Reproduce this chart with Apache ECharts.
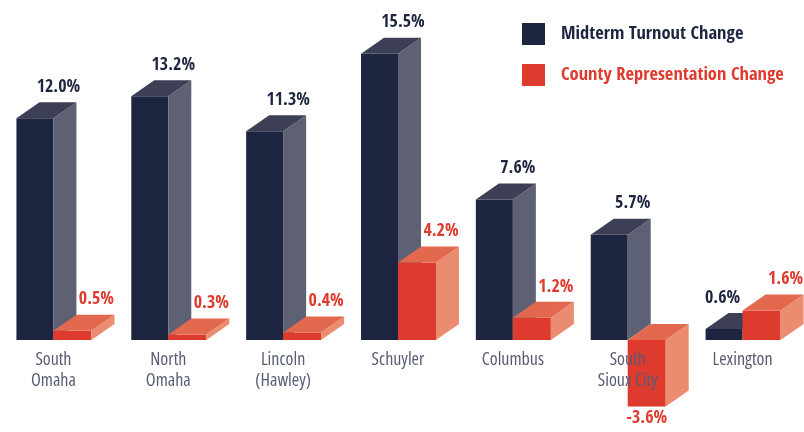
<!DOCTYPE html>
<html lang="en">
<head>
    <meta charset="UTF-8">
    <title>Turnout vs representation</title>
    <script src="https://cdn.jsdelivr.net/npm/echarts@6/dist/echarts.min.js"></script>
    <style>
        html, body { margin: 0; padding: 0; background: #ffffff; }
        #main { width: 804px; height: 432px; }
    </style>
</head>
<body>
    <div id="main"></div>
    <script>
        var places = ['South\nOmaha', 'North\nOmaha', 'Lincoln\n(Hawley)', 'Schuyler', 'Columbus', 'South\nSioux City', 'Lexington'];
        var turnoutChange = [12.0, 13.2, 11.3, 15.5, 7.6, 5.7, 0.6];
        var representationChange = [0.5, 0.3, 0.4, 4.2, 1.2, -3.6, 1.6];

        var narrow = "'Open Sans Condensed', 'Roboto Condensed', sans-serif";
        var navy = { front: '#1d2541', side: '#5e6074', top: '#3d3f56', text: '#1d2541' };
        var red = { front: '#df3a2e', side: '#eb8b70', top: '#e3694e', text: '#df3a2e' };

        // draws one pseudo-3d box, left of the band centre (navy) or right of it (red)
        function boxRenderer(pal, onLeft) {
            return function (params, api) {
                var idx = api.value(0), v = api.value(1);
                var base = api.coord([idx, 0]);
                var tip = api.coord([idx, v]);
                var cx = base[0];
                var w = onLeft ? 37 : 38, dx = 23, dy = -16;
                var x0 = onLeft ? cx - w : cx;
                var x1 = x0 + w;
                var yTop = Math.min(base[1], tip[1]);
                var yBot = Math.max(base[1], tip[1]);
                var txt = v.toFixed(1) + '%';
                var lx, ly;
                if (v < 0) {
                    lx = x0 + w / 2; ly = yBot + 12;
                } else if (onLeft) {
                    // move aside when the red neighbour is taller
                    lx = representationChange[idx] > v ? cx - 20 : cx + 5;
                    ly = yTop + dy - 15;
                } else {
                    lx = cx + 43;
                    ly = yTop + dy - 15;
                }
                return {
                    type: 'group',
                    children: [
                        { type: 'rect', shape: { x: x0, y: yTop, width: w, height: yBot - yTop }, style: { fill: pal.front } },
                        { type: 'polygon', shape: { points: [[x1, yTop], [x1 + dx, yTop + dy], [x1 + dx, yBot + dy], [x1, yBot]] }, style: { fill: pal.side } },
                        { type: 'polygon', shape: { points: [[x0, yTop], [x0 + dx, yTop + dy], [x1 + dx, yTop + dy], [x1, yTop]] }, style: { fill: pal.top } },
                        { type: 'text', style: { text: txt, x: lx, y: ly, align: 'center', verticalAlign: 'middle', fill: pal.text, font: 'bold 18px ' + narrow } }
                    ]
                };
            };
        }

        var myChart = echarts.init(document.getElementById('main'));
        var option = {
            backgroundColor: '#ffffff',
            animation: false,
            // the axis sits on the zero line; the negative box is drawn below the grid
            grid: { left: -4, right: 4, top: 26, bottom: 92, outerBoundsMode: 'none', containLabel: false },
            legend: {
                orient: 'vertical',
                left: 522,
                top: 23,
                padding: 0,
                icon: 'rect',
                itemWidth: 23,
                itemHeight: 22,
                itemGap: 19,
                selectedMode: false,
                textStyle: { fontFamily: narrow, fontWeight: 'bold', fontSize: 18.5, padding: [0, 0, 0, 11] },
                data: [
                    { name: 'Midterm Turnout Change', textStyle: { color: navy.text } },
                    { name: 'County Representation Change', textStyle: { color: red.text } }
                ]
            },
            xAxis: {
                type: 'category',
                data: places,
                z: 10,
                axisLine: { show: false },
                axisTick: { show: false },
                axisLabel: {
                    interval: 0,
                    margin: 9,
                    color: '#585d73',
                    fontFamily: "'Open Sans', sans-serif",
                    fontWeight: '400 condensed',
                    fontSize: 18,
                    lineHeight: 21
                }
            },
            yAxis: {
                type: 'value',
                min: 0,
                max: 17,
                show: false
            },
            series: [
                {
                    name: 'Midterm Turnout Change',
                    type: 'custom',
                    itemStyle: { color: navy.front },
                    renderItem: boxRenderer(navy, true),
                    data: turnoutChange.map(function (v, i) { return [i, v]; })
                },
                {
                    name: 'County Representation Change',
                    type: 'custom',
                    itemStyle: { color: red.front },
                    renderItem: boxRenderer(red, false),
                    data: representationChange.map(function (v, i) { return [i, v]; })
                }
            ]
        };
        myChart.setOption(option);
    </script>
</body>
</html>
